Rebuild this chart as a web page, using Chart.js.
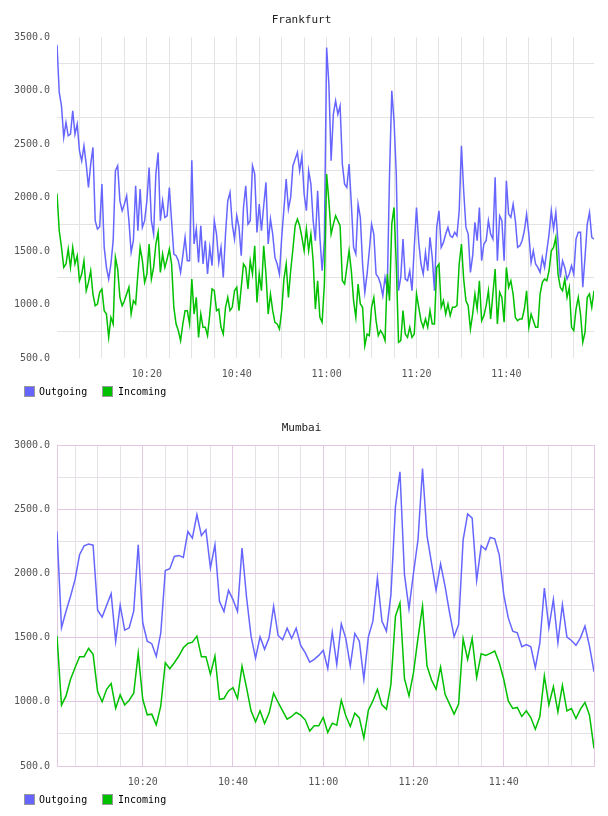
<!DOCTYPE html>
<html><head><meta charset="utf-8">
<script src="https://cdn.jsdelivr.net/npm/chart.js@4.4.1/dist/chart.umd.min.js"></script>
<style>
html,body{margin:0;padding:0;background:#fff;}
.box{width:608px;height:408px;position:relative;}
canvas{display:block;}
.lg-box{position:absolute;top:386px;width:9px;height:9px;border:1px solid #999;}
.lg-txt{position:absolute;top:386px;height:11px;line-height:11px;font:10px "DejaVu Sans Mono","Liberation Mono",monospace;color:#000;white-space:nowrap;}
</style></head><body>
<div class="box" id="b1"><canvas id="c1" width="608" height="408"></canvas></div>
<div class="box" id="b2"><canvas id="c2" width="608" height="408"></canvas></div>
<script>
// ---- data ----
const seriesLabels = ['Outgoing', 'Incoming'];
const chartTitles = ['Frankfurt', 'Mumbai'];

// minutes after 10:00 of first sample, and sampling step in minutes
const frankfurtStart = 0, frankfurtStep = 0.5;
const mumbaiStart = 1, mumbaiStep = 1;

const frankfurtOutgoing = [
3428,2983,2858,2562,2703,2578,2593,2812,2593,2687,
2438,2344,2485,2313,2095,2313,2469,1784,1706,1728,
2126,1534,1347,1238,1379,1597,2251,2298,1970,1877,
1939,2017,1784,1488,1597,2111,1690,2080,1721,1784,
1970,2282,1784,1659,2220,2422,1784,1970,1815,1830,
2095,1784,1472,1457,1410,1301,1457,1628,1410,1410,
2350,1566,1706,1394,1737,1379,1597,1285,1534,1363,
1784,1659,1394,1534,1254,1659,1970,2048,1752,1612,
1830,1721,1457,1908,2111,1752,1784,2298,2220,1675,
1939,1690,1924,2142,1566,1799,1659,1441,1379,1285,
1628,1893,2173,1893,2002,2298,2360,2422,2251,2391,
2033,1877,2251,2126,1784,1597,2064,1628,1316,1597,
3403,3061,2344,2780,2905,2780,2858,2313,2126,2095,
2313,1939,1534,1472,1939,1815,1379,1114,1285,1503,
1752,1659,1285,1254,1192,1083,1254,1145,2220,2998,
2718,2220,1129,1254,1612,1238,1223,1316,1129,1534,
1908,1581,1379,1285,1488,1316,1628,1441,1129,1721,
1877,1534,1581,1659,1721,1643,1628,1675,1643,1877,
2484,2064,1721,1659,1301,1457,1768,1597,1908,1410,
1566,1597,1784,1659,1612,2189,1410,1830,1784,1410,
2157,1846,1815,1939,1784,1534,1550,1597,1690,1846,
1659,1394,1503,1379,1347,1301,1441,1347,1503,1659,
1877,1706,1861,1581,1254,1410,1347,1238,1285,1363,
1285,1612,1675,1675,1161,1441,1752,1861,1628,1612];

const frankfurtIncoming = [
2039,1690,1534,1347,1379,1519,1347,1534,1379,1457,
1223,1285,1410,1129,1207,1316,1098,989,1005,1114,
1145,943,911,693,880,818,1441,1332,1067,989,
1036,1098,1161,911,1036,1005,1285,1534,1410,1207,
1285,1566,1238,1347,1566,1675,1301,1472,1347,1425,
1519,1379,974,818,756,662,818,943,943,818,
1238,911,1067,693,911,787,787,709,911,1145,
1129,943,958,787,724,974,1067,943,974,1129,
1161,943,1161,1379,1347,1145,1410,1285,1550,1020,
1285,1129,1550,1285,911,1098,943,834,818,771,
943,1238,1379,1067,1316,1519,1737,1799,1737,1628,
1503,1706,1503,1659,1410,958,1223,880,834,1192,
2220,1970,1659,1752,1830,1784,1737,1223,1192,1347,
1503,1316,1036,880,1192,1005,974,615,724,709,
974,1067,849,709,756,724,662,1285,1036,1752,
1908,1379,647,662,943,724,693,787,693,724,
1098,974,849,787,865,787,943,818,818,1347,
1379,974,1036,911,1005,896,974,974,989,1379,
1566,1238,1036,989,771,911,1098,958,1223,849,
896,989,1129,865,1098,1332,818,1114,1067,834,
1347,1161,1223,1098,880,849,865,865,958,1129,
787,911,849,787,787,1098,1207,1238,1223,1316,
1503,1534,1628,1285,1161,1129,1238,1067,1161,787,
756,958,1067,911,647,740,1067,1098,974,1129];

const mumbaiOutgoing = [
2327,1577,1706,1823,1952,2146,2216,2229,2221,1714,
1660,1753,1843,1471,1753,1559,1577,1706,2224,1616,
1473,1453,1354,1538,2024,2037,2133,2141,2125,2327,
2276,2459,2296,2340,2043,2224,1784,1704,1869,1797,
1704,2198,1817,1512,1341,1507,1409,1499,1745,1517,
1484,1574,1494,1574,1440,1383,1310,1331,1362,1401,
1258,1543,1292,1608,1494,1279,1533,1473,1176,1507,
1629,1965,1629,1551,1836,2521,2793,1991,1724,2004,
2263,2819,2294,2081,1869,2076,1900,1693,1507,1603,
2263,2464,2431,1947,2216,2185,2281,2270,2146,1836,
1654,1551,1538,1429,1447,1429,1266,1460,1887,1577,
1797,1460,1758,1504,1478,1440,1499,1590,1434,1235];

const mumbaiIncoming = [
1512,974,1046,1176,1266,1352,1352,1416,1370,1080,
1000,1098,1142,950,1054,976,1013,1067,1378,1020,
899,904,821,969,1305,1258,1305,1357,1421,1455,
1465,1512,1352,1352,1215,1357,1020,1026,1085,1111,
1026,1279,1111,930,844,930,831,912,1067,995,
930,865,886,917,896,860,772,813,813,878,
762,834,818,1013,891,808,912,875,718,935,
1007,1098,976,943,1137,1667,1771,1181,1046,1227,
1499,1745,1279,1170,1098,1271,1059,982,904,982,
1491,1331,1494,1189,1375,1362,1378,1396,1305,1176,
1007,948,956,886,930,878,787,886,1202,976,
1119,922,1129,930,948,870,943,995,896,637];

// axis ticks
const xLabelMinutes = [20, 40, 60, 80, 100];
const xLabelTexts = ['10:20', '10:40', '11:00', '11:20', '11:40'];
const frankfurtYLabels = [500, 1000, 1500, 2000, 2500, 3000, 3500];
const mumbaiYLabels = [500, 1000, 1500, 2000, 2500, 3000];

// ---- styling ----
const FONT = '"DejaVu Sans Mono", "Liberation Mono", monospace';
const COLORS = ['rgb(102,102,255)', 'rgb(0,192,0)'];
const GREY_GRID = '#e3e3e3';
const MINOR_GRID = '#e6e1e6';
const MAJOR_GRID = '#e3c8e3';

function points(start, step, vals) {
  return vals.map((v, i) => ({x: start + i * step, y: v}));
}

function addLegend(boxId) {
  const box = document.getElementById(boxId);
  const boxLeft = [24, 102], txtLeft = [39, 118];
  seriesLabels.forEach((name, i) => {
    const sw = document.createElement('div');
    sw.className = 'lg-box'; sw.style.left = boxLeft[i] + 'px'; sw.style.background = COLORS[i];
    const tx = document.createElement('div');
    tx.className = 'lg-txt'; tx.style.left = txtLeft[i] + 'px'; tx.textContent = name;
    box.appendChild(sw); box.appendChild(tx);
  });
}

function makeChart(id, title, start, step, outVals, inVals, yLabels, framed) {
  const xMin = start, xMax = start + (outVals.length - 1) * step;
  const yMin = yLabels[0], yMax = yLabels[yLabels.length - 1];
  const xTicks = [];
  for (let m = 5; m < xMax; m += 5) if (m > xMin) xTicks.push(m);
  if (framed) { xTicks.unshift(xMin); xTicks.push(xMax); }
  const yTicks = [];
  for (let v = yMin; v <= yMax; v += 250) yTicks.push(v);

  new Chart(document.getElementById(id), {
    type: 'line',
    data: {
      datasets: [
        {label: seriesLabels[0], data: points(start, step, outVals), borderColor: COLORS[0], backgroundColor: COLORS[0], order: 1},
        {label: seriesLabels[1], data: points(start, step, inVals), borderColor: COLORS[1], backgroundColor: COLORS[1], order: 0}
      ]
    },
    options: {
      responsive: false,
      animation: false,
      devicePixelRatio: 1,
      parsing: false,
      layout: {padding: {left: 9, right: 14, top: 0, bottom: 28}},
      elements: {line: {tension: 0, borderWidth: 1.5, fill: false}, point: {radius: 0, hoverRadius: 0}},
      plugins: {
        title: {display: true, text: title, color: '#222', font: {family: FONT, size: 11, weight: 'normal'}, padding: {top: 14, bottom: 10}},
        tooltip: {enabled: false},
        legend: {display: false}
      },
      scales: {
        x: {
          type: 'linear', min: xMin, max: xMax,
          afterBuildTicks: (s) => { s.ticks = xTicks.map(v => ({value: v})); },
          afterFit: (s) => { s.height = 22; },
          ticks: {
            autoSkip: false, maxRotation: 0, padding: 10, color: '#545454',
            font: {family: FONT, size: 10},
            callback: (v) => { const k = xLabelMinutes.indexOf(v); return (k >= 0 && v !== xMin && v !== xMax) ? xLabelTexts[k] : ''; }
          },
          grid: {
            drawTicks: false, lineWidth: 1,
            color: (c) => {
              const v = c.tick ? c.tick.value : null;
              if (!framed) return GREY_GRID;
              if (v === xMin || v === xMax || v % 20 === 0) return MAJOR_GRID;
              return MINOR_GRID;
            }
          },
          border: {display: framed, color: MAJOR_GRID, width: 1}
        },
        y: {
          type: 'linear', min: yMin, max: yMax,
          afterBuildTicks: (s) => { s.ticks = yTicks.map(v => ({value: v})); },
          afterFit: (s) => { s.width = 48; },
          ticks: {
            autoSkip: false, padding: 7, color: '#545454',
            font: {family: FONT, size: 10},
            callback: (v) => yLabels.includes(v) ? v.toFixed(1) : ''
          },
          grid: {
            drawTicks: false, lineWidth: 1,
            color: (c) => {
              const v = c.tick ? c.tick.value : null;
              if (!framed) return (v % 500 === 250) ? GREY_GRID : 'rgba(0,0,0,0)';
              return (v % 500 === 0) ? MAJOR_GRID : MINOR_GRID;
            }
          },
          border: {display: framed, color: MAJOR_GRID, width: 1}
        }
      }
    }
  });
}

makeChart('c1', chartTitles[0], frankfurtStart, frankfurtStep, frankfurtOutgoing, frankfurtIncoming, frankfurtYLabels, false);
makeChart('c2', chartTitles[1], mumbaiStart, mumbaiStep, mumbaiOutgoing, mumbaiIncoming, mumbaiYLabels, true);
addLegend('b1');
addLegend('b2');
</script>
</body></html>
